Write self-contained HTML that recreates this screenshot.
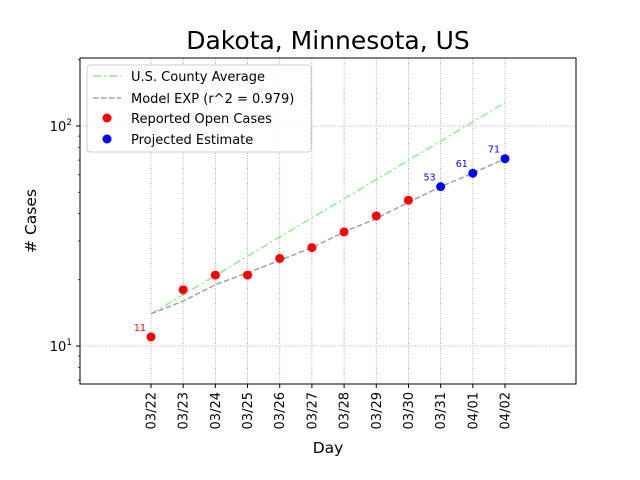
<!DOCTYPE html>
<html><head><meta charset="utf-8"><style>
body{margin:0;background:#fff;}
svg{display:block;font-family:"DejaVu Sans","Liberation Sans",sans-serif;}
</style></head><body>
<svg id="chart" width="640" height="480" viewBox="0 0 640 480">
<rect width="640" height="480" fill="#fff"/>
<text x="328" y="49" font-size="25" text-anchor="middle">Dakota, Minnesota, US</text>
<g id="grid"></g>
<g id="series"></g>
<rect x="80" y="58" width="496" height="326" fill="none" stroke="#000" stroke-width="1"/>
<g id="axes"></g>
<text x="328" y="453" font-size="15.5" text-anchor="middle">Day</text>
<text transform="translate(36,221) rotate(-90)" font-size="15.5" text-anchor="middle"># Cases</text>
<g>
<rect x="87" y="65" width="224" height="87" rx="3" fill="#fff" fill-opacity="0.8" stroke="#ccc"/>
<g><line x1="93" y1="76" x2="121" y2="76" stroke="#90ee90" stroke-width="1.5" stroke-dasharray="8,3,2,3"/><text x="131" y="81" font-size="13">U.S. County Average</text></g>
<g><line x1="93" y1="98" x2="121" y2="98" stroke="#a0a0a0" stroke-width="1.5" stroke-dasharray="5.5,2.5"/><text x="131" y="103" font-size="13">Model EXP (r^2 = 0.979)</text></g>
<g><circle cx="107" cy="118" r="4.5" fill="red"/><text x="131" y="123" font-size="13">Reported Open Cases</text></g>
<g><circle cx="107" cy="139" r="4.5" fill="blue"/><text x="131" y="144" font-size="13">Projected Estimate</text></g>
</g>
</svg>
<script>
const days=["03/22","03/23","03/24","03/25","03/26","03/27","03/28","03/29","03/30","03/31","04/01","04/02"];
const reported=[11,18,21,21,25,28,33,39,46];
const projected=[53,61,71];
const model=[14,16,19,21.5,24.5,28,33,38,45,53,61,71];
const county=[14,17.1,20.9,25.6,31.3,38.2,46.7,57.1,69.8,85.4,104.4,127.6];
const yMajor=[10,100];
const yMinor=[7,8,9,20,30,40,50,60,70,80,90,200];
const NS="http://www.w3.org/2000/svg";
const X=i=>151+i*(505-151)/11;
const Y=v=>346-(Math.log10(v)-1)*220;
function mk(tag,attrs,parent){const e=document.createElementNS(NS,tag);for(const k in attrs)e.setAttribute(k,attrs[k]);document.getElementById(parent).appendChild(e);return e;}
days.forEach((d,i)=>{
 let g=mk("line",{x1:X(i),x2:X(i),y1:58,y2:384,stroke:"#999","stroke-width":0.8,"stroke-dasharray":"1,1.5"},"grid");
 
 
 let t=mk("line",{x1:X(i),x2:X(i),y1:384,y2:388,stroke:"#000"},"axes");
 
 
 let l=mk("text",{transform:`translate(${X(i)+4.5},392) rotate(-90)`,"font-size":13,"text-anchor":"end"},"axes");
 l.textContent=d;
 
 
});
yMajor.forEach(v=>{
 let g=mk("line",{x1:80,x2:576,y1:Y(v),y2:Y(v),stroke:"#999","stroke-width":0.8,"stroke-dasharray":"1,1.5"},"grid");
 
 
 let t=mk("line",{x1:76,x2:80,y1:Y(v),y2:Y(v),stroke:"#000"},"axes");
 
 
 let l=mk("text",{x:72,y:Y(v)+5,"font-size":13,"text-anchor":"end"},"axes");
 l.innerHTML="10<tspan dy='-6' font-size='9'>"+Math.log10(v)+"</tspan>";
 
 
});
yMinor.forEach(v=>{
 let t=mk("line",{x1:78,x2:80,y1:Y(v),y2:Y(v),stroke:"#000","stroke-width":0.7},"axes");
 
 
});
let cl=mk("polyline",{points:county.map((v,i)=>X(i)+","+Y(v)).join(" "),fill:"none",stroke:"#90ee90","stroke-width":1.5,"stroke-dasharray":"8,3,2,3"},"series");


let ml=mk("polyline",{points:model.map((v,i)=>X(i)+","+Y(v)).join(" "),fill:"none",stroke:"#a0a0a0","stroke-width":1.5,"stroke-dasharray":"5.5,2.5"},"series");


reported.forEach((v,i)=>{
 let c=mk("circle",{cx:X(i),cy:Y(v),r:4.5,fill:"red"},"series");
 
 
 if(i===0){let t=mk("text",{x:X(i)-5,y:Y(v)-6,"font-size":9.5,fill:"red","text-anchor":"end"},"series");t.textContent=v;
 
 }
});
projected.forEach((v,j)=>{
 const i=reported.length+j;
 let c=mk("circle",{cx:X(i),cy:Y(v),r:4.5,fill:"blue"},"series");
 
 
 let t=mk("text",{x:X(i)-5,y:Y(v)-6,"font-size":9.5,fill:"blue","text-anchor":"end"},"series");t.textContent=v;
 
 
});
</script>
</body></html>
